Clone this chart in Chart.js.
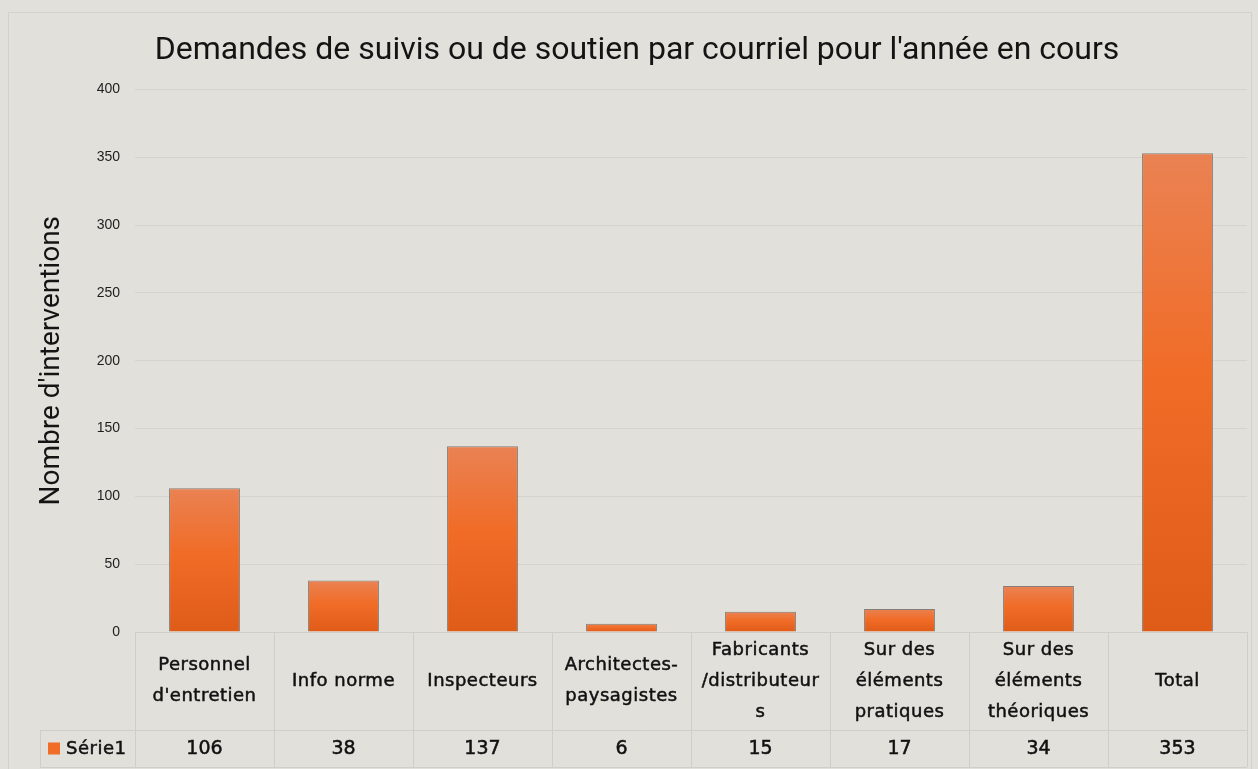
<!DOCTYPE html>
<html>
<head>
<meta charset="utf-8">
<script src="https://cdn.jsdelivr.net/npm/chart.js@4.4.0/dist/chart.umd.min.js"></script>
<style>
  html, body { margin: 0; padding: 0; background: #e1e0da; }
  #wrap { width: 1258px; height: 769px; }
</style>
</head>
<body>
<div id="wrap"><canvas id="chart"></canvas></div>
<script>
// data
const categories = [
    ["Personnel", "d'entretien"],
    ["Info norme"],
    ["Inspecteurs"],
    ["Architectes-", "paysagistes"],
    ["Fabricants", "/distributeur", "s"],
    ["Sur des", "éléments", "pratiques"],
    ["Sur des", "éléments", "théoriques"],
    ["Total"]
];
const seriesName = "Série1";
const seriesValues = [106, 38, 137, 6, 15, 17, 34, 353];
const yTicks = [0, 50, 100, 150, 200, 250, 300, 350, 400];

const titleText = "Demandes de suivis ou de soutien par courriel pour l'année en cours";
const yTitle = "Nombre d'interventions";

const tableFont = "18px 'DejaVu Sans'";
const valueFont = "19px 'DejaVu Sans'";
const lineColor = "#cfcec8";

function barGradient(ctx) {
    const chart = ctx.chart;
    if (!chart.chartArea || ctx.raw === undefined) return "#f06c28";
    const y = chart.scales.y;
    const top = y.getPixelForValue(ctx.raw);
    const bottom = y.getPixelForValue(0);
    const g = chart.ctx.createLinearGradient(0, top, 0, bottom);
    g.addColorStop(0, "#ea8253");
    g.addColorStop(0.45, "#f06c27");
    g.addColorStop(1, "#df5b18");
    return g;
}

// slightly heavier text, like the blurred labels of the picture
function boldText(c, t, x, y) {
    c.fillText(t, x, y);
    c.strokeText(t, x, y);
}

// background, frame and the data table under the plot
const tablePlugin = {
    id: "dataTable",
    beforeDraw(chart) {
        const c = chart.ctx;
        c.save();
        c.fillStyle = "#e1e0da";
        c.fillRect(0, 0, chart.width, chart.height);
        c.strokeStyle = "#d3d2cc";
        c.lineWidth = 1;
        c.strokeRect(8.5, 12.5, chart.width - 15, chart.height);
        c.restore();
    },
    afterDraw(chart) {
        const c = chart.ctx;
        const x = chart.scales.x;
        const n = categories.length;
        const step = (x.right - x.left) / n;
        const top = chart.chartArea.bottom;
        const headH = 98;
        const rowH = 37;
        const legendLeft = 40;

        c.save();
        c.strokeStyle = lineColor;
        c.lineWidth = 1;
        c.beginPath();
        // horizontal lines
        c.moveTo(x.left, top + 0.5); c.lineTo(x.right, top + 0.5);
        c.moveTo(legendLeft, top + headH + 0.5); c.lineTo(x.right, top + headH + 0.5);
        c.moveTo(legendLeft, top + headH + rowH + 0.5); c.lineTo(x.right, top + headH + rowH + 0.5);
        // vertical lines
        for (let i = 0; i <= n; i++) {
            const px = Math.round(x.left + i * step) + 0.5;
            c.moveTo(px, top); c.lineTo(px, top + headH + rowH);
        }
        c.moveTo(legendLeft + 0.5, top + headH); c.lineTo(legendLeft + 0.5, top + headH + rowH);
        c.stroke();

        c.fillStyle = "#111111";
        c.strokeStyle = "#111111";
        c.lineWidth = 0.5;
        c.textAlign = "center";
        c.textBaseline = "middle";
        const lh = 31;
        categories.forEach((lines, i) => {
            const cx = x.getPixelForValue(i);
            c.font = tableFont;
            c.letterSpacing = "0.5px";
            const y0 = top + headH / 2 - (lines.length - 1) * lh / 2;
            lines.forEach((t, k) => boldText(c, t, cx, y0 + k * lh));
            c.font = valueFont;
            c.letterSpacing = "0px";
            boldText(c, String(seriesValues[i]), cx, top + headH + rowH / 2 + 1);
        });

        // legend key
        const ky = top + headH + rowH / 2;
        c.fillStyle = "#f06c27";
        c.fillRect(48, ky - 6, 12, 12);
        c.fillStyle = "#111111";
        c.textAlign = "left";
        c.font = tableFont;
        c.letterSpacing = "0.5px";
        boldText(c, seriesName, 66, ky + 1);
        c.restore();
    }
};

new Chart(document.getElementById("chart"), {
    type: "bar",
    data: {
        labels: categories,
        datasets: [{
            label: seriesName,
            data: seriesValues,
            backgroundColor: barGradient,
            borderColor: "rgba(110,100,92,0.8)",
            borderWidth: 1,
            barPercentage: 0.51,
            categoryPercentage: 1
        }]
    },
    options: {
        responsive: true,
        maintainAspectRatio: false,
        animation: false,
        layout: { padding: { top: 12, right: 11, bottom: 137, left: 27 } },
        plugins: {
            legend: { display: false },
            tooltip: { enabled: false },
            title: {
                display: true,
                text: titleText,
                color: "#141414",
                font: { family: "Roboto", size: 32, weight: "normal", lineHeight: 1.2 },
                padding: { top: 20, bottom: 19 }
            }
        },
        scales: {
            x: {
                display: false,
                offset: true
            },
            y: {
                min: 0,
                max: 400,
                afterBuildTicks: scale => { scale.ticks = yTicks.map(v => ({ value: v })); },
                afterFit: scale => { scale.width = 108; },
                ticks: {
                    padding: 15,
                    color: "#1e1e1e",
                    font: { family: "Liberation Sans", size: 14 }
                },
                grid: { color: "#d4d3cd", drawTicks: false },
                border: { display: false },
                title: {
                    display: true,
                    text: yTitle,
                    color: "#141414",
                    font: { family: "Roboto", size: 28, lineHeight: 1.2 },
                    padding: { top: 8, bottom: 0 }
                }
            }
        }
    },
    plugins: [tablePlugin]
});
</script>
</body>
</html>
